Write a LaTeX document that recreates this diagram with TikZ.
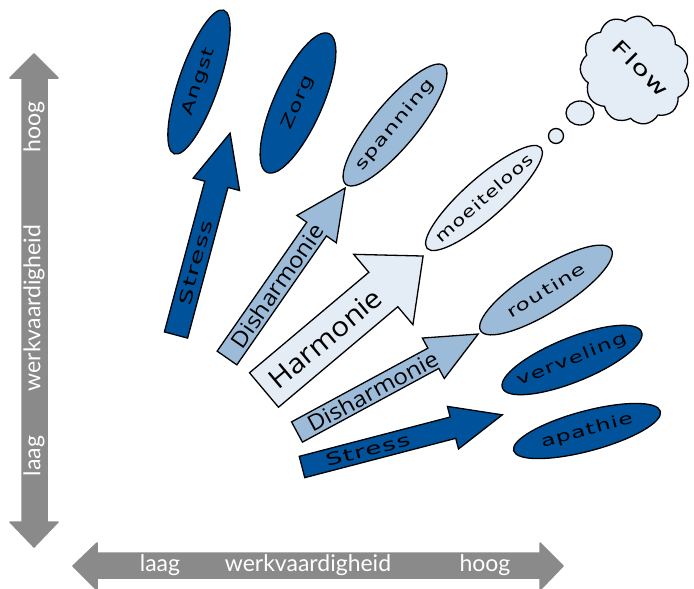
\documentclass[tikz,border=0pt]{standalone}
\usepackage{fontspec}
\usetikzlibrary{shapes.geometric,shapes.symbols}
\setmainfont{Lato}
\newfontfamily\axfont{Lato}
\newfontfamily\arfont[FakeStretch=1.1]{Open Sans}
\newfontfamily\elfont[LetterSpace=7,FakeStretch=1.45]{DejaVu Sans}
\newfontfamily\stfont[LetterSpace=7,FakeStretch=1.55]{DejaVu Sans}
\newfontfamily\mofont[LetterSpace=7,FakeStretch=1.3]{DejaVu Sans}
\definecolor{dblue}{HTML}{00529B}
\definecolor{mblue}{HTML}{9BBBD9}
\definecolor{lblue}{HTML}{E4ECF5}
\definecolor{axgrey}{HTML}{8A8A8A}
% style, tail, angle, length, shaft half width, head half width, head length, text, text pos
\newcommand\blockarrow[9]{%
\begin{scope}[shift={#2}, rotate=#3]
\draw[#1] (0,-#5) -- ({#4-#7},-#5) -- ({#4-#7},-#6) -- (#4,0) -- ({#4-#7},#6) -- ({#4-#7},#5) -- (0,#5) -- cycle;
\node[transform shape, inner sep=0pt] at (#9,0) {#8};
\end{scope}}
\tikzset{
  outl/.style={draw=black, line width=1.3pt, line join=miter},
  elp/.style={ellipse, draw=black, line width=1.3pt, inner sep=0pt},
  eltext/.style={font=\elfont\fontsize{16}{16}\selectfont, inner sep=0pt},
  axtext/.style={font=\axfont\fontsize{23}{23}\selectfont, text=white, inner sep=0pt},
  axfill/.style={fill=axgrey, draw=axgrey, line width=1.5pt, line join=round},
}
\begin{document}
\begin{tikzpicture}[x=1pt,y=-1pt]
\useasboundingbox (0,0) rectangle (694,589);
\fill[white] (0,0) rectangle (694,589);

% axes
\filldraw[axfill] (22,78) -- (10,78) -- (34,54) -- (58,78) -- (47,78) -- (47,522) -- (58,522) -- (34,547) -- (10,522) -- (22,522) -- cycle;
\filldraw[axfill] (97,553) -- (97,543) -- (73,566) -- (97,590) -- (97,578) -- (540,578) -- (540,590) -- (563,566) -- (540,543) -- (540,553) -- cycle;
\node[axtext, rotate=90] (vhoog) at (34,127) {hoog};
\node[axtext, rotate=90] (vwerk) at (34,308) {werkvaardigheid};
\node[axtext, rotate=90] (vlaag) at (34,456) {laag};
\node[axtext] (hlaag) at (160,565) {laag};
\node[axtext] (hwerk) at (308,565) {werkvaardigheid};
\node[axtext] (hhoog) at (485,565) {hoog};

% block arrows
\blockarrow{outl, fill=dblue}{(176,335)}{75}{209}{12}{24}{53}{\stfont\fontsize{17}{17}\selectfont Stress}{75}
\blockarrow{outl, fill=mblue}{(227,358)}{55.2}{207}{12}{24}{50}{\arfont\fontsize{22}{22}\selectfont Disharmonie}{88}
\blockarrow{outl, fill=lblue}{(264,390)}{40.1}{208}{22.5}{46}{52}{\arfont\fontsize{27}{27}\selectfont Harmonie}{80}
\blockarrow{outl, fill=mblue}{(297,432)}{28.4}{206}{11.5}{23}{51}{\arfont\fontsize{22}{22}\selectfont Disharmonie}{86}
\blockarrow{outl, fill=dblue}{(302,467)}{14.6}{207}{11}{22}{51}{\stfont\fontsize{17}{17}\selectfont Stress}{68}

% ellipses
\node[elp, fill=dblue, minimum width=152pt, minimum height=40pt, rotate=71] (angst) at (199,82) {};
\node[eltext, rotate=71] at (angst) {Angst};
\node[elp, fill=dblue, minimum width=152pt, minimum height=48pt, rotate=66] (zorg) at (298,103) {};
\node[eltext, rotate=66] at (zorg) {Zorg};
\node[elp, fill=mblue, minimum width=154pt, minimum height=44pt, rotate=50.4] (spanning) at (395,125) {};
\node[eltext, rotate=50.4] at (spanning) {spanning};
\node[elp, fill=lblue, minimum width=152pt, minimum height=40pt, rotate=41.5] (moeiteloos) at (484,198) {};
\node[eltext, font=\mofont\fontsize{16}{16}\selectfont, rotate=41.5] at (moeiteloos) {moeiteloos};
\node[elp, fill=mblue, minimum width=154pt, minimum height=44pt, rotate=32] (routine) at (546,290) {};
\node[eltext, rotate=32] at (routine) {routine};
\node[elp, fill=dblue, minimum width=150pt, minimum height=44pt, rotate=22] (verveling) at (572,360) {};
\node[eltext, rotate=22] at (verveling) {verveling};
\node[elp, fill=dblue, minimum width=152pt, minimum height=40pt, rotate=15] (apathie) at (587,431) {};
\node[eltext, rotate=15] at (apathie) {apathie};

% thought bubbles and cloud
\node[elp, fill=lblue, minimum width=15pt, minimum height=15pt] (b1) at (556,136) {};
\node[elp, fill=lblue, minimum width=28pt, minimum height=24pt] (b2) at (580,113) {};
\node[cloud, draw=black, line width=1.3pt, fill=lblue, cloud puffs=11, cloud puff arc=110, aspect=1, minimum width=112pt, minimum height=106pt, inner sep=0pt, rotate=-40] (cloud) at (635,70) {};
\node[eltext, font=\elfont\fontsize{20}{20}\selectfont, rotate=-45] (flow) at (641,68) {Flow};
\end{tikzpicture}
\end{document}
